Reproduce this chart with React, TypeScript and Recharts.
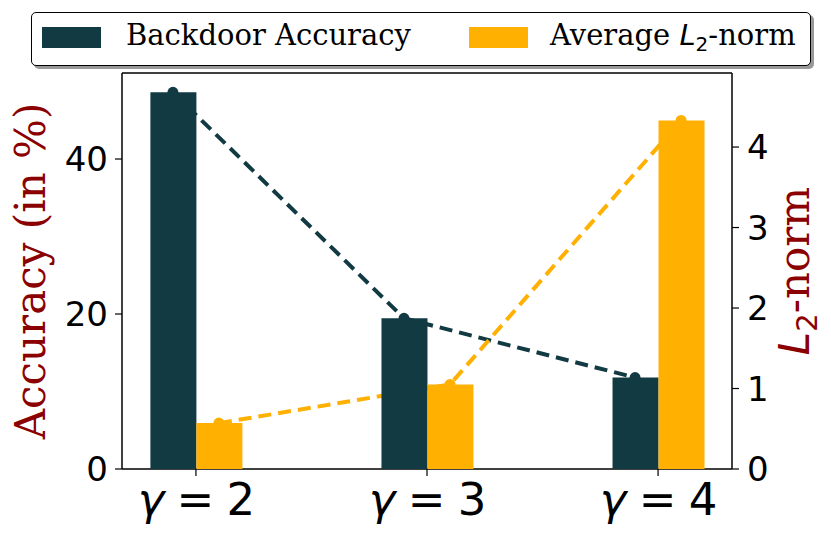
import { Bar, ComposedChart, Label, Line, ReferenceLine, XAxis, YAxis } from "recharts";

const gammas = [2, 3, 4];
const backdoorAccuracy = [48.6, 19.45, 11.8];
const avgL2Norm = [0.57, 1.05, 4.33];
const accTicks = [0, 20, 40];
const normTicks = [0, 1, 2, 3, 4];

const data = gammas.map((g, i) => ({ gamma: g, acc: backdoorAccuracy[i], norm: avgL2Norm[i] }));

const TEAL = "#123a43";
const ORANGE = "#ffb000";
const RED = "#8b0000";

const W = 831;
const H = 543;
const PLOT = { left: 122, right: 732, top: 73, bottom: 469 };
const BAR = 46;
const X_DOMAIN: [number, number] = [1.68, 4.32];
const ACC_MAX = 51.1;
const NORM_MAX = 4.92;

// lines sit on bar centres, half a bar either side of the group tick
const pxPerUnit = (PLOT.right - PLOT.left) / (X_DOMAIN[1] - X_DOMAIN[0]);
const shift = BAR / 2 / pxPerUnit;
const accLineDomain: [number, number] = [X_DOMAIN[0] + shift, X_DOMAIN[1] + shift];
const normLineDomain: [number, number] = [X_DOMAIN[0] - shift, X_DOMAIN[1] - shift];

const LEFT_W = 70;
const RIGHT_W = 60;
const X_H = 60;

const GammaTick = (props: any) => {
  const { x, y, payload } = props;
  return (
    <text x={x} y={y} dy="0.72em" textAnchor="middle" fontFamily="DejaVu Sans" fontSize={45} fill="#000" letterSpacing={-1}>
      <tspan fontStyle="italic">γ</tspan>
      {` = ${payload.value}`}
    </text>
  );
};

const LeftTitle = (props: any) => {
  const vb = props.viewBox;
  const cy = vb.y + vb.height / 2;
  return (
    <text x={45} y={cy} transform={`rotate(-90, 45, ${cy})`} textAnchor="middle" fontFamily="DejaVu Serif" fontSize={42} fill={RED}>
      Accuracy (in %)
    </text>
  );
};

const RightTitle = (props: any) => {
  const vb = props.viewBox;
  const cy = vb.y + vb.height / 2;
  return (
    <text x={809} y={cy} transform={`rotate(-90, 809, ${cy})`} textAnchor="middle" fontFamily="DejaVu Serif" fontSize={42} fill={RED}>
      <tspan fontFamily="DejaVu Sans" fontStyle="italic">L</tspan>
      <tspan fontFamily="DejaVu Sans" fontSize={29} dy={8}>2</tspan>
      <tspan dy={-8}>-norm</tspan>
    </text>
  );
};

const swatch = (color: string, left: number) => (
  <div style={{ position: "absolute", left, top: 14, width: 59, height: 21, background: color }} />
);

const LegendBox = () => (
  <div
    style={{
      position: "absolute",
      left: 31,
      top: 12,
      width: 778,
      height: 52,
      border: "1.5px solid #000",
      borderRadius: 5,
      background: "#fff",
      boxShadow: "3px 3px 0 #999",
      fontFamily: "DejaVu Serif",
      fontSize: 29,
      color: "#000",
    }}
  >
    {swatch(TEAL, 10)}
    <div style={{ position: "absolute", left: 94, top: 5, whiteSpace: "nowrap" }}>Backdoor Accuracy</div>
    {swatch(ORANGE, 437)}
    <div style={{ position: "absolute", left: 518, top: 5, whiteSpace: "nowrap" }}>
      Average <span style={{ fontFamily: "DejaVu Sans", fontStyle: "italic" }}>L</span>
      <span style={{ fontFamily: "DejaVu Sans", fontSize: 20, position: "relative", top: 6 }}>2</span>-norm
    </div>
  </div>
);

export default function App() {
  return (
    <div style={{ position: "absolute", left: 0, top: 0, width: W, height: H, background: "#fff" }}>
      <ComposedChart
        width={W}
        height={H}
        data={data}
        barGap={0}
        margin={{
          top: PLOT.top,
          bottom: H - PLOT.bottom - X_H,
          left: PLOT.left - LEFT_W,
          right: W - PLOT.right - RIGHT_W,
        }}
      >
        <XAxis
          xAxisId="main"
          dataKey="gamma"
          type="number"
          domain={X_DOMAIN}
          ticks={gammas}
          interval={0}
          height={X_H}
          tick={<GammaTick />}
          tickSize={7}
          tickMargin={7}
          axisLine={{ stroke: "#000", strokeWidth: 1.5 }}
          tickLine={{ stroke: "#000", strokeWidth: 1.2 }}
          allowDataOverflow
        />
        <XAxis xAxisId="accLine" dataKey="gamma" type="number" domain={accLineDomain} height={0} hide allowDataOverflow />
        <XAxis xAxisId="normLine" dataKey="gamma" type="number" domain={normLineDomain} height={0} hide allowDataOverflow />
        <YAxis
          yAxisId="acc"
          orientation="left"
          domain={[0, ACC_MAX]}
          ticks={accTicks}
          width={LEFT_W}
          tickSize={7}
          tickMargin={7}
          tick={{ fontFamily: "DejaVu Sans", fontSize: 34, fill: "#000" }}
          axisLine={{ stroke: "#000", strokeWidth: 1.5 }}
          tickLine={{ stroke: "#000", strokeWidth: 1.2 }}
          allowDataOverflow
        >
          <Label content={<LeftTitle />} />
        </YAxis>
        <YAxis
          yAxisId="norm"
          orientation="right"
          domain={[0, NORM_MAX]}
          ticks={normTicks}
          width={RIGHT_W}
          tickSize={7}
          tickMargin={8}
          tick={{ fontFamily: "DejaVu Sans", fontSize: 34, fill: "#000" }}
          axisLine={{ stroke: "#000", strokeWidth: 1.5 }}
          tickLine={{ stroke: "#000", strokeWidth: 1.2 }}
          allowDataOverflow
        >
          <Label content={<RightTitle />} />
        </YAxis>
        <ReferenceLine xAxisId="main" yAxisId="acc" y={ACC_MAX} stroke="#000" strokeWidth={1.5} />
        <Line
          xAxisId="accLine"
          yAxisId="acc"
          dataKey="acc"
          stroke={TEAL}
          strokeWidth={4}
          strokeDasharray="13 7"
          dot={{ r: 5.5, fill: TEAL, stroke: TEAL, strokeWidth: 0, strokeDasharray: "" }}
          activeDot={false}
          isAnimationActive={false}
          zIndex={250}
        />
        <Line
          xAxisId="normLine"
          yAxisId="norm"
          dataKey="norm"
          stroke={ORANGE}
          strokeWidth={4}
          strokeDasharray="13 7"
          dot={{ r: 5.5, fill: ORANGE, stroke: ORANGE, strokeWidth: 0, strokeDasharray: "" }}
          activeDot={false}
          isAnimationActive={false}
          zIndex={250}
        />
        <Bar xAxisId="main" yAxisId="acc" dataKey="acc" barSize={BAR} fill={TEAL} isAnimationActive={false} zIndex={650} />
        <Bar xAxisId="main" yAxisId="norm" dataKey="norm" barSize={BAR} fill={ORANGE} isAnimationActive={false} zIndex={650} />
      </ComposedChart>
      <LegendBox />
    </div>
  );
}
